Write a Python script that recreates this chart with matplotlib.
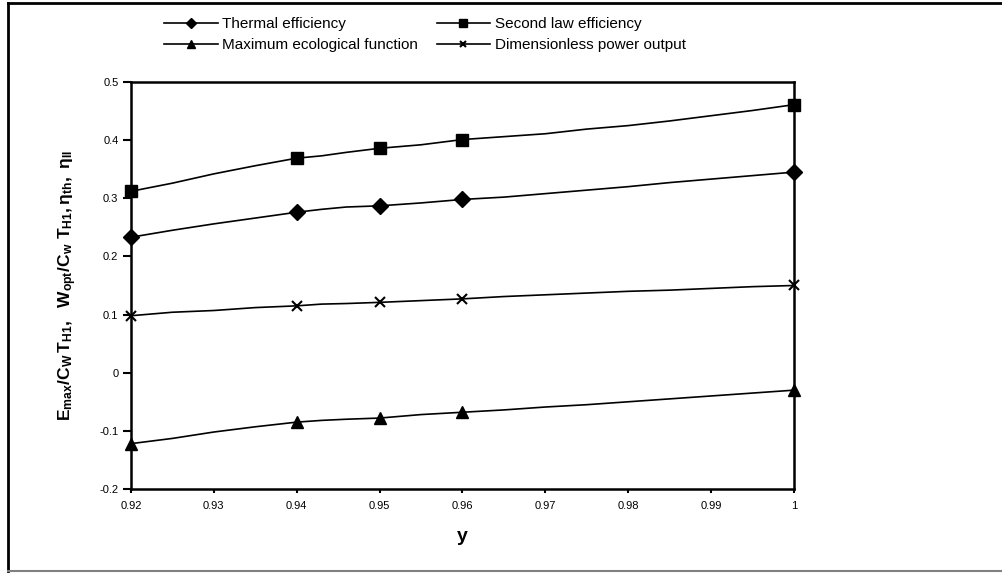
import matplotlib
matplotlib.use('Agg')
import matplotlib.pyplot as plt
from matplotlib.lines import Line2D

plt.rcParams['font.family'] = ['Liberation Sans', 'DejaVu Sans']
plt.rcParams['mathtext.fontset'] = 'custom'
plt.rcParams['mathtext.rm'] = 'Liberation Sans:bold'
plt.rcParams['mathtext.it'] = 'Liberation Sans:bold'
plt.rcParams['mathtext.bf'] = 'Liberation Sans:bold'

# y values where markers sit
y_marks = [0.92, 0.94, 0.95, 0.96, 1.0]

# dense curve points
y_line = [0.92, 0.925, 0.93, 0.935, 0.94, 0.943, 0.946, 0.95, 0.955, 0.96, 0.965,
          0.97, 0.975, 0.98, 0.985, 0.99, 0.995, 1.0]
second_law = [0.312, 0.326, 0.342, 0.356, 0.369, 0.373, 0.379, 0.386, 0.392, 0.401, 0.406,
              0.411, 0.419, 0.425, 0.433, 0.442, 0.451, 0.461]
thermal = [0.233, 0.245, 0.256, 0.266, 0.276, 0.281, 0.285, 0.287, 0.292, 0.298, 0.302,
           0.308, 0.314, 0.320, 0.327, 0.333, 0.339, 0.345]
power = [0.098, 0.104, 0.107, 0.112, 0.115, 0.118, 0.119, 0.121, 0.124, 0.127, 0.131,
         0.134, 0.137, 0.140, 0.142, 0.145, 0.148, 0.150]
ecological = [-0.122, -0.113, -0.102, -0.093, -0.085, -0.082, -0.080, -0.078, -0.072, -0.068, -0.064,
              -0.059, -0.055, -0.050, -0.045, -0.040, -0.035, -0.030]

marks_idx = [y_line.index(v) for v in y_marks]

fig = plt.figure(figsize=(10.02, 5.73), dpi=100)
ax = fig.add_axes([0.1307, 0.1466, 0.6617, 0.7103])

l_th, = ax.plot(y_line, thermal, '-', color='k', lw=1.2, marker='D', ms=8, markevery=marks_idx,
                label='Thermal efficiency', clip_on=False)
l_sl, = ax.plot(y_line, second_law, '-', color='k', lw=1.2, marker='s', ms=8.5, markevery=marks_idx,
                label='Second law efficiency', clip_on=False)
l_ec, = ax.plot(y_line, ecological, '-', color='k', lw=1.2, marker='^', ms=9, markevery=marks_idx,
                label='Maximum ecological function', clip_on=False)
l_pw, = ax.plot(y_line, power, '-', color='k', lw=1.2, marker='x', ms=7, mew=1.5, markevery=marks_idx,
                label='Dimensionless power output', clip_on=False)

ax.set_xlim(0.92, 1.0)
ax.set_ylim(-0.2, 0.5)
ax.set_xticks([0.92, 0.93, 0.94, 0.95, 0.96, 0.97, 0.98, 0.99, 1.0])
ax.set_xticklabels(['0.92', '0.93', '0.94', '0.95', '0.96', '0.97', '0.98', '0.99', '1'])
ax.set_yticks([-0.2, -0.1, 0, 0.1, 0.2, 0.3, 0.4, 0.5])
ax.set_yticklabels(['-0.2', '-0.1', '0', '0.1', '0.2', '0.3', '0.4', '0.5'])
ax.tick_params(axis='both', direction='out', labelsize=8, width=1.5, color='k')
ax.tick_params(axis='y', length=6, pad=3)
ax.tick_params(axis='x', length=3, pad=6)
for s in ax.spines.values():
    s.set_linewidth(1.8)

ax.set_xlabel('y', fontsize=14, fontweight='bold', labelpad=12)
ax.set_ylabel(r'$\mathrm{E_{max}/C_W\,T_{H1},\ \ W_{opt}/C_w\ T_{H1},\eta_{th},\ \eta_{II}}$',
              fontsize=12.5, labelpad=15)

fig.legend([l_th, l_ec, l_sl, l_pw],
           [l.get_label() for l in (l_th, l_ec, l_sl, l_pw)],
           loc='upper left', bbox_to_anchor=(0.164, 0.97), ncol=2, frameon=False,
           fontsize=11, handlelength=3.5, columnspacing=1.2, labelspacing=0.45,
           handletextpad=0.3, borderaxespad=0, borderpad=0, markerscale=0.7)

# figure frame
fig.add_artist(Line2D([0.008, 0.008], [0.004, 0.995], color='k', lw=2, transform=fig.transFigure))
fig.add_artist(Line2D([0.008, 1.0], [0.995, 0.995], color='k', lw=2, transform=fig.transFigure))
fig.add_artist(Line2D([0.008, 1.0], [0.004, 0.004], color='gray', lw=1.5, transform=fig.transFigure))

fig.savefig('out.png', dpi=100)
